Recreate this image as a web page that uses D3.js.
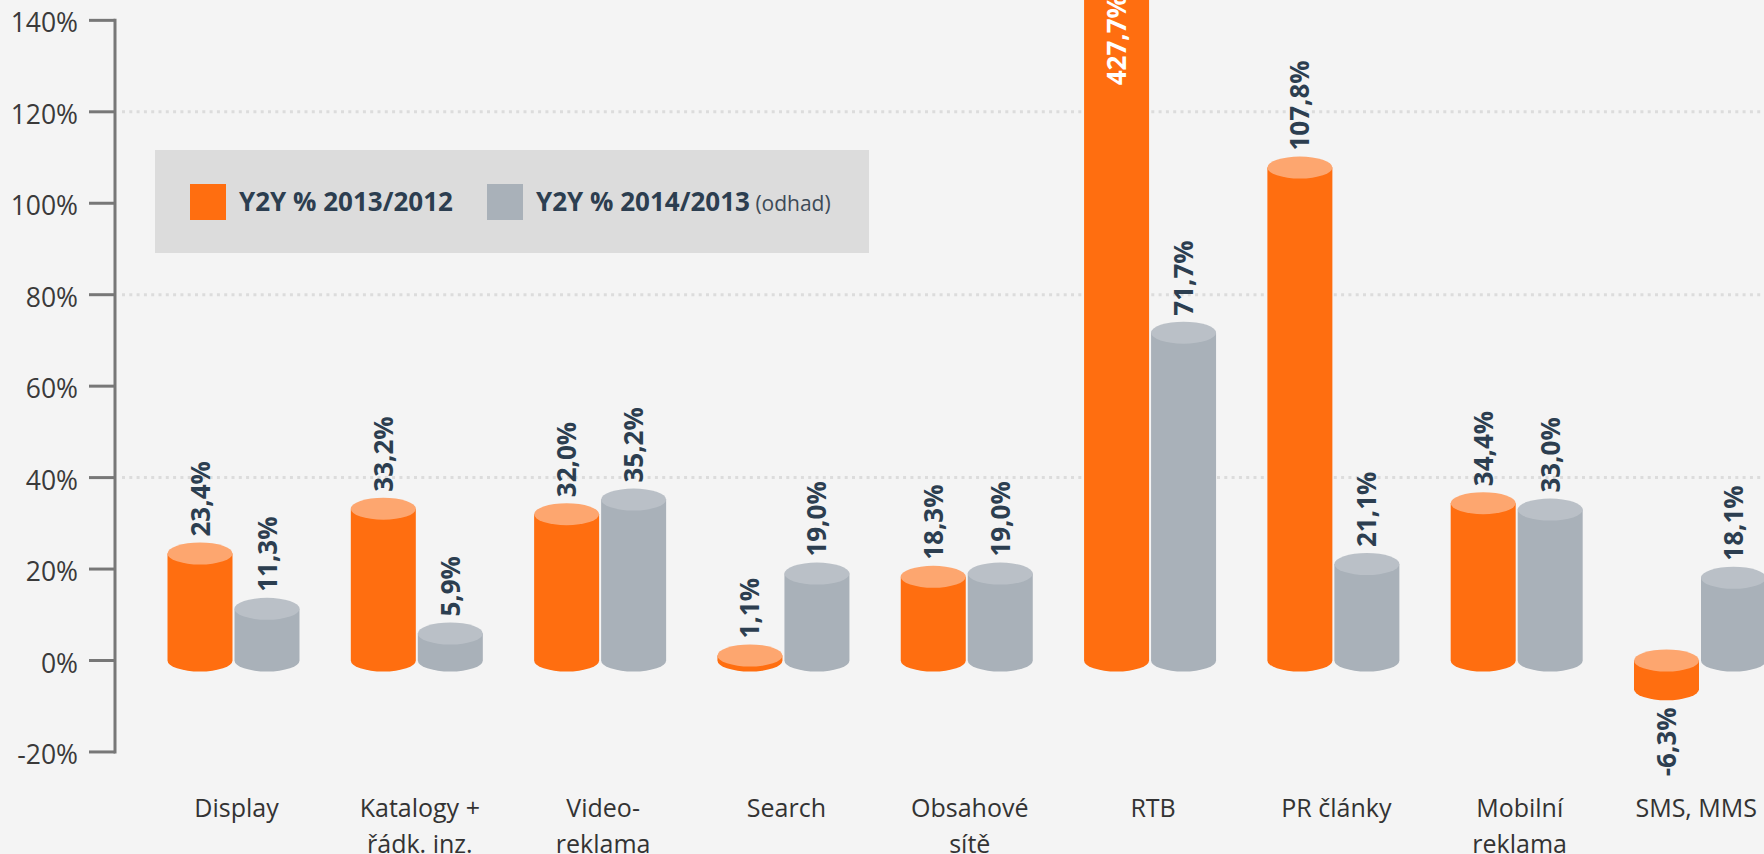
<!DOCTYPE html>
<html>
<head>
<meta charset="utf-8">
<script src="https://cdn.jsdelivr.net/npm/d3@7"></script>
<style>
  html, body { margin: 0; padding: 0; background: #f4f4f4; overflow: hidden; }
  svg { display: block; font-family: "Open Sans", sans-serif; }
</style>
</head>
<body>
<div id="chart"></div>
<script>
// categories and values (Y2Y growth, %)
var categories = [
    ["Display"],
    ["Katalogy +", "řádk. inz."],
    ["Video-", "reklama"],
    ["Search"],
    ["Obsahové", "sítě"],
    ["RTB"],
    ["PR články"],
    ["Mobilní", "reklama"],
    ["SMS, MMS"]
];
var y2013 = [23.4, 33.2, 32.0, 1.1, 18.3, 427.7, 107.8, 34.4, -6.3];
var y2014 = [11.3, 5.9, 35.2, 19.0, 19.0, 71.7, 21.1, 33.0, 18.1];
var seriesNames = ["Y2Y % 2013/2012", "Y2Y % 2014/2013"];
var yTicks = [-20, 0, 20, 40, 60, 80, 100, 120, 140];
var gridTicks = [40, 80, 120];

var width = 1764, height = 854;
var colors = [
    { body: "#ff6e10", top: "#fda66f" },
    { body: "#a9b1b9", top: "#bac0c7" }
];
var textDark = "#2c3e50";

var svg = d3.select("#chart").append("svg")
    .attr("width", width)
    .attr("height", height);

svg.append("rect").attr("width", width).attr("height", height).attr("fill", "#f4f4f4");

var y = d3.scaleLinear().domain([-20, 140]).range([751.95, 20.35]);
var x = d3.scalePoint().domain(d3.range(categories.length)).range([233.5, 1700]);

var axisX = 115;
var barW = 65, gap = 2, ry = 11;

// gridlines (dotted)
svg.append("g").selectAll("line")
    .data(gridTicks)
    .join("line")
    .attr("x1", 122).attr("x2", width)
    .attr("y1", d => y(d)).attr("y2", d => y(d))
    .attr("stroke", "#dcdcdc")
    .attr("stroke-width", 3)
    .attr("stroke-dasharray", "3,4.3");

// y axis
var axis = svg.append("g");
axis.append("line")
    .attr("x1", axisX).attr("x2", axisX)
    .attr("y1", y(140) - 1.5).attr("y2", y(-20) + 1.5)
    .attr("stroke", "#777").attr("stroke-width", 3);
axis.selectAll("line.tick")
    .data(yTicks)
    .join("line")
    .attr("class", "tick")
    .attr("x1", 89).attr("x2", axisX)
    .attr("y1", d => y(d)).attr("y2", d => y(d))
    .attr("stroke", "#777").attr("stroke-width", 3);
axis.selectAll("text")
    .data(yTicks)
    .join("text")
    .attr("x", 78)
    .attr("y", d => y(d) + 12)
    .attr("text-anchor", "end")
    .attr("font-size", 26.5)
    .attr("fill", "#3a3a3a")
    .text(d => d + "%");

// legend
var legend = svg.append("g");
legend.append("rect")
    .attr("x", 155).attr("y", 150)
    .attr("width", 714).attr("height", 103)
    .attr("fill", "#dcdcdc");
var legendX = [190, 487];
seriesNames.forEach(function (name, i) {
    legend.append("rect")
        .attr("x", legendX[i]).attr("y", 184)
        .attr("width", 36).attr("height", 36)
        .attr("fill", colors[i].body);
    var t = legend.append("text")
        .attr("x", legendX[i] + 49).attr("y", 211)
        .attr("font-size", 26)
        .attr("font-weight", 700)
        .attr("fill", textDark);
    t.append("tspan").text(name);
    if (i == 1) {
        t.append("tspan")
            .attr("font-size", 21)
            .attr("font-weight", 400)
            .attr("fill", "#3d4a57")
            .text(" (odhad)");
    }
});

// cylinder bars
var bars = [];
categories.forEach(function (c, i) {
    [y2013[i], y2014[i]].forEach(function (v, s) {
        var cx = x(i) + (s == 0 ? -(barW / 2 + gap / 2) : (barW / 2 + gap / 2));
        bars.push({ i: i, s: s, v: v, cx: cx });
    });
});

var gBars = svg.append("g");
bars.forEach(function (b) {
    var yTop = Math.min(y(b.v), y(0));
    var yBot = Math.max(y(b.v), y(0));
    var x0 = b.cx - barW / 2, x1 = b.cx + barW / 2;
    var rx = barW / 2;
    gBars.append("path")
        .attr("d", "M" + x0 + "," + yTop + "L" + x0 + "," + yBot +
            "A" + rx + "," + ry + " 0 0 0 " + x1 + "," + yBot +
            "L" + x1 + "," + yTop + "Z")
        .attr("fill", colors[b.s].body);
    gBars.append("ellipse")
        .attr("cx", b.cx).attr("cy", yTop)
        .attr("rx", rx).attr("ry", ry)
        .attr("fill", colors[b.s].top);
});

// value labels
var fmt = function (v) { return d3.format(".1f")(v).replace(".", ",").replace("−", "-") + "%"; };
var gLabels = svg.append("g");
bars.forEach(function (b) {
    var inside = b.v > y.domain()[1];
    var ly, anchor;
    if (inside) {
        ly = y(y.domain()[1]) + 65;
        anchor = "start";
    } else if (b.v >= 0) {
        ly = y(b.v) - ry - 6;
        anchor = "start";
    } else {
        ly = y(b.v) + ry + 7;
        anchor = "end";
    }
    gLabels.append("text")
        .attr("transform", "translate(" + (b.cx + 9.5) + "," + ly + ") rotate(-90)")
        .attr("text-anchor", anchor)
        .attr("font-size", 26)
        .attr("font-weight", 700)
        .attr("fill", inside ? "#ffffff" : textDark)
        .text(fmt(b.v));
});

// category labels
var gCats = svg.append("g");
categories.forEach(function (lines, i) {
    var t = gCats.append("text")
        .attr("x", x(i) + 3)
        .attr("y", 817)
        .attr("text-anchor", "middle")
        .attr("font-size", 25)
        .attr("fill", "#333");
    lines.forEach(function (l, k) {
        t.append("tspan")
            .attr("x", x(i) + 3)
            .attr("dy", k == 0 ? 0 : 36)
            .text(l);
    });
    // keep the last label inside the page
    var bb = t.node().getBBox();
    var over = bb.x + bb.width - (width - 7);
    if (over > 0) {
        t.selectAll("tspan").attr("x", x(i) + 3 - over);
    }
});
</script>
</body>
</html>
